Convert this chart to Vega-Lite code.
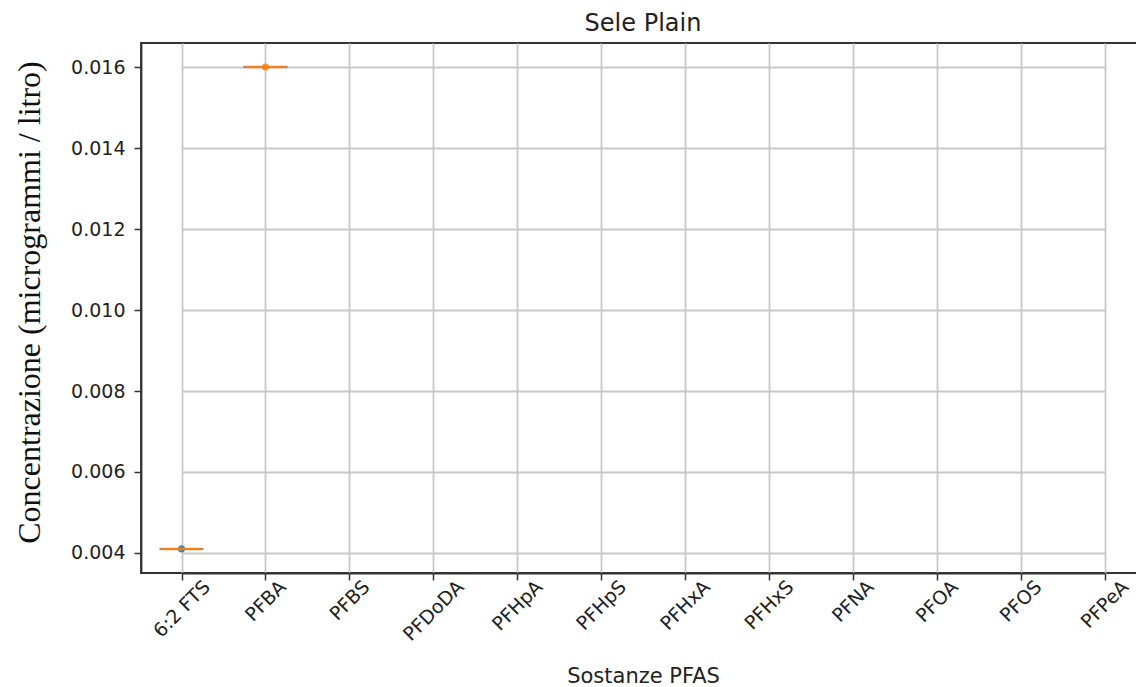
{
  "$schema": "https://vega.github.io/schema/vega-lite/v6.json",
  "autosize": {"type": "none"},
  "padding": {"left": 141, "top": 43, "right": 0, "bottom": 114},
  "width": 997,
  "height": 530,
  "background": "white",
  "config": {
    "view": {"stroke": "#333333", "strokeWidth": 1.8},
    "font": "DejaVu Sans",
    "axis": {
      "labelFont": "DejaVu Sans",
      "labelFontSize": 19,
      "labelColor": "#222222",
      "domainColor": "#333333",
      "domainWidth": 1.8,
      "tickColor": "#333333",
      "tickWidth": 1.5,
      "tickSize": 7,
      "gridColor": "#c8c8c8",
      "gridWidth": 1.8
    }
  },
  "title": {
    "text": "Sele Plain",
    "font": "DejaVu Sans",
    "fontSize": 24,
    "fontWeight": "normal",
    "color": "#222222",
    "anchor": "middle",
    "offset": 7,
    "dx": 3.5
  },
  "data": {
    "values": [
      {"sostanza": "6:2 FTS", "concentrazione": 0.0041},
      {"sostanza": "PFBA", "concentrazione": 0.016}
    ]
  },
  "encoding": {
    "x": {
      "field": "sostanza",
      "type": "nominal",
      "sort": null,
      "scale": {
        "type": "point",
        "domain": ["6:2 FTS", "PFBA", "PFBS", "PFDoDA", "PFHpA", "PFHpS", "PFHxA", "PFHxS", "PFNA", "PFOA", "PFOS", "PFPeA"],
        "range": [40.5, 963.5],
        "padding": 0
      },
      "axis": {
        "title": "Sostanze PFAS",
        "titleFont": "DejaVu Sans",
        "titleFontSize": 21,
        "titleFontWeight": "normal",
        "titleColor": "#222222",
        "titleX": 502,
        "titleY": 109,
        "titleBaseline": "alphabetic",
        "titleAlign": "center",
        "labelAngle": -45,
        "labelAlign": "center",
        "labelBaseline": "middle",
        "labelPadding": {
          "condition": [
            {"test": "datum.label == '6:2 FTS'", "value": 28.6},
            {"test": "datum.label == 'PFBA'", "value": 20.6},
            {"test": "datum.label == 'PFBS'", "value": 20.2},
            {"test": "datum.label == 'PFDoDA'", "value": 30.4},
            {"test": "datum.label == 'PFHpA'", "value": 25.3},
            {"test": "datum.label == 'PFHpS'", "value": 25.0},
            {"test": "datum.label == 'PFHxA'", "value": 25.0},
            {"test": "datum.label == 'PFHxS'", "value": 24.7},
            {"test": "datum.label == 'PFNA'", "value": 21.0},
            {"test": "datum.label == 'PFOA'", "value": 21.2},
            {"test": "datum.label == 'PFOS'", "value": 20.9}
          ],
          "value": 24.1
        },
        "grid": true
      }
    },
    "y": {
      "field": "concentrazione",
      "type": "quantitative",
      "scale": {"domain": [0.003505, 0.016595], "nice": false, "zero": false},
      "axis": {
        "title": "Concentrazione (microgrammi / litro)",
        "titleFont": "Liberation Serif",
        "titleFontSize": 32,
        "titleFontWeight": "normal",
        "titleColor": "#111111",
        "titleAngle": -90,
        "titleX": -112,
        "titleY": 259,
        "titleAlign": "center",
        "titleBaseline": "middle",
        "values": [0.004, 0.006, 0.008, 0.010, 0.012, 0.014, 0.016],
        "format": ".3f",
        "labelPadding": 9,
        "grid": true
      }
    }
  },
  "layer": [
    {
      "mark": {"type": "point", "filled": true, "size": 50, "opacity": 0.85},
      "encoding": {
        "color": {
          "field": "sostanza",
          "type": "nominal",
          "scale": {
            "domain": ["6:2 FTS", "PFBA", "PFBS", "PFDoDA", "PFHpA", "PFHpS", "PFHxA", "PFHxS", "PFNA", "PFOA", "PFOS", "PFPeA"],
            "range": ["#1f77b4", "#ff7f0e", "#2ca02c", "#d62728", "#9467bd", "#8c564b", "#e377c2", "#7f7f7f", "#bcbd22", "#17becf", "#1f77b4", "#ff7f0e"]
          },
          "legend": null
        }
      }
    },
    {
      "mark": {"type": "tick", "orient": "horizontal", "color": "#555555", "size": 44, "thickness": 2}
    },
    {
      "mark": {"type": "tick", "orient": "horizontal", "color": "#ff7f0e", "size": 41, "thickness": 2.5, "opacity": 0.9}
    }
  ]
}
